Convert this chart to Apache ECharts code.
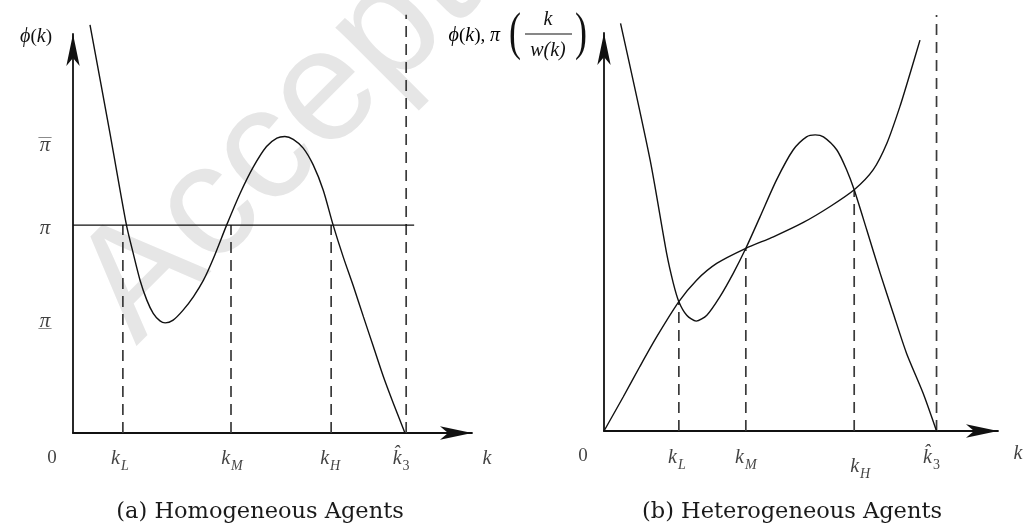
<!DOCTYPE html>
<html><head><meta charset="utf-8">
<script src="https://cdn.jsdelivr.net/npm/echarts@6/dist/echarts.min.js"></script>
<style>html,body{margin:0;padding:0;background:#fff}#c{width:1026px;height:526px}</style>
</head><body><div id="c"></div>
<script>
// ---------- Panel (a): Homogeneous Agents ----------
const phiA = [[4.26,102.3],[9.27,75.1],[13.4,52.1],[15.1,45.0],[16.8,38.3],[18.5,33.3],[20.1,30.0],[21.8,28.1],[23.1,27.6],[25.1,28.3],[27.6,30.8],[30.2,34.2],[32.7,38.3],[35.2,43.8],[38.5,52.1],[41.9,60.1],[45.2,66.7],[48.5,71.8],[51.1,73.9],[53.1,74.3],[55.2,73.6],[57.7,71.4],[60.2,67.2],[62.7,60.9],[65.2,52.1],[67.7,44.2],[70.3,36.7],[72.8,29.1],[75.3,21.6],[77.8,14.1],[80.3,7.4],[83.2,0]];
const piLevelA = 52.1;
const piLineEndA = 85.5;
const dashXA = [12.5, 39.6, 64.7];
const k3XA = 83.5, k3TopA = 104.8;
const xTickValsA = [0, 12.5, 39.6, 64.7, 83.5];
const xTickLabelsA = ['0', 'k_L', 'k_M', 'k_H', 'k\u0302_3'];
const yTickValsA = [72.2, 52.1, 28.3];
const yTickLabelsA = ['over', 'plain', 'under'];   // overlined pi, pi, underlined pi
const xTitleA = 'k';

// ---------- Panel (b): Heterogeneous Agents ----------
const phiB = [[4.2,102.4],[11.7,68.1],[15.9,44.6],[17.6,37.1],[19.0,32.5],[21.0,29.1],[23.4,27.6],[26.1,29.1],[29.4,33.7],[32.8,39.6],[36.0,45.9],[39.6,53.8],[43.8,63.1],[48.0,70.6],[51.4,73.9],[53.6,74.4],[55.7,73.9],[59.1,70.6],[61.6,65.6],[63.5,60.6],[66.7,50.5],[70.1,39.6],[73.4,29.6],[76.8,19.5],[81.0,9.5],[84.4,0]];
const piB = [[0,0],[4.9,8.6],[9.1,16.2],[13.4,23.7],[19.0,32.5],[23.5,37.9],[28.6,42.1],[36.0,45.9],[43.0,48.8],[50.6,52.4],[57.4,56.4],[63.5,60.6],[68.3,65.6],[71.8,72.3],[75.1,81.5],[77.7,89.9],[80.2,98.2]];
const dashXB = [19.0, 36.0, 63.5];
const dashTopB = [32.5, 45.9, 60.6];
const k3XB = 84.4, k3TopB = 104.5;
const xTickValsB = [0, 19.0, 36.0, 63.5, 84.4];
const xTickLabelsB = ['0', 'k_L', 'k_M', 'k_H', 'k\u0302_3'];
const xTitleB = 'k';

// ---------- styling ----------
const MATH = "'Liberation Serif','DejaVu Serif',serif";
const ROMAN = "'DejaVu Serif','Liberation Serif',serif";
const INK = '#111';
const DASH = {color:'#3a3a3a', width:1.7, type:[11,7]};
const labelOffsetsA = [[-21,27],[-3,27],[1,27],[-1,27],[-5,27]];
const labelOffsetsB = [[-21,27],[-2,28],[0,28],[6,37],[-5,28]];

const rich = {
  k: {fontFamily:MATH, fontStyle:'italic', fontSize:20, lineHeight:22, verticalAlign:'top', color:INK},
  s: {fontFamily:MATH, fontStyle:'italic', fontSize:14, lineHeight:14, padding:[10,0,0,1], verticalAlign:'top', color:INK},
  n: {fontFamily:MATH, fontSize:14, lineHeight:14, padding:[10,0,0,1], verticalAlign:'top', color:INK},
  z: {fontFamily:MATH, fontSize:19, lineHeight:22, verticalAlign:'top', color:INK},
  p: {fontFamily:MATH, fontStyle:'italic', fontSize:21, lineHeight:10, color:INK},
  p0: {fontFamily:MATH, fontStyle:'italic', fontSize:21, lineHeight:20, color:INK},
  bar: {fontFamily:MATH, fontSize:13, lineHeight:7, color:INK},
  ubar: {fontFamily:MATH, fontSize:13, lineHeight:1, color:INK},
  i: {fontFamily:MATH, fontStyle:'italic', fontSize:20, color:INK},
  r: {fontFamily:MATH, fontSize:19, color:INK}
};
function toRich(t){
  if (t.indexOf('_') >= 0) {
    const [b, s] = t.split('_');
    return '{k|' + b + '}{' + (/\d/.test(s) ? 'n' : 's') + '|' + s + '}';
  }
  if (/^\d+$/.test(t)) return '{z|' + t + '}';
  return '{k|' + t + '}';
}
function piRich(kind){
  if (kind === 'over') return '{bar|\u2014}\n{p|\u03c0}';
  if (kind === 'under') return '{p|\u03c0}\n{ubar|\u2014}';
  return '{p0|\u03c0}';
}
const piOffsets = {over:[-28,-3], plain:[-28,3], under:[-28,2]};

function axisX(g){
  return {gridIndex:g, type:'value', min:0, max:100,
    axisLine:{show:true, onZero:false, symbol:['none','arrow'], symbolSize:[10,32], lineStyle:{color:INK, width:1.8}},
    axisTick:{show:false}, axisLabel:{show:false}, splitLine:{show:false}};
}
function axisY(g, name){
  return {gridIndex:g, type:'value', min:0, max:100,
    axisLine:{show:true, onZero:false, symbol:['none','arrow'], symbolSize:[10,32], lineStyle:{color:INK, width:1.8}},
    axisTick:{show:false}, axisLabel:{show:false}, splitLine:{show:false},
    name:name, nameLocation:'end', nameGap:-3,
    nameTextStyle:{align:'right', verticalAlign:'middle', padding:[0,21,0,0], rich:rich}};
}
function curve(g, data){
  return {type:'line', xAxisIndex:g, yAxisIndex:g, data:data, smooth:0.25, showSymbol:false, clip:false, silent:true,
    lineStyle:{color:INK, width:1.4}, z:3};
}
function dashed(g, x, top){
  return {type:'line', xAxisIndex:g, yAxisIndex:g, data:[[x,0],[x,top]], showSymbol:false, clip:false, silent:true,
    lineStyle:DASH, z:2};
}
function xLabels(g, vals, labels, offs){
  return {type:'scatter', xAxisIndex:g, yAxisIndex:g, symbolSize:0, clip:false, silent:true,
    data: vals.map((v,i)=>({value:[v,0], label:{offset:offs[i]}})),
    label:{show:true, position:'inside', formatter:p=>toRich(labels[p.dataIndex]), rich:rich}};
}
function xTitle(g, text, off){
  return {type:'scatter', xAxisIndex:g, yAxisIndex:g, symbolSize:0, clip:false, silent:true,
    data:[{value:[100,0], label:{offset:off}}],
    label:{show:true, position:'inside', formatter:()=>'{k|'+text+'}', rich:rich}};
}
function yLabels(g, vals, labels){
  return {type:'scatter', xAxisIndex:g, yAxisIndex:g, symbolSize:0, clip:false, silent:true,
    data: vals.map((v,i)=>({value:[0,v], label:{offset:piOffsets[labels[i]]}})),
    label:{show:true, position:'inside', align:'center', formatter:p=>piRich(labels[p.dataIndex]), rich:rich}};
}

const series = [];
series.push(curve(0, phiA));
series.push({type:'line', xAxisIndex:0, yAxisIndex:0, data:[[0,piLevelA],[piLineEndA,piLevelA]], showSymbol:false, clip:false, silent:true, lineStyle:{color:INK, width:1.4}, z:3});
dashXA.forEach(x=>series.push(dashed(0, x, piLevelA)));
series.push(dashed(0, k3XA, k3TopA));
series.push(xLabels(0, xTickValsA, xTickLabelsA, labelOffsetsA));
series.push(xTitle(0, xTitleA, [15,27]));
series.push(yLabels(0, yTickValsA, yTickLabelsA));

series.push(curve(1, phiB));
series.push(curve(1, piB));
dashXB.forEach((x,i)=>series.push(dashed(1, x, dashTopB[i])));
series.push(dashed(1, k3XB, k3TopB));
series.push(xLabels(1, xTickValsB, xTickLabelsB, labelOffsetsB));
series.push(xTitle(1, xTitleB, [20,24]));

const chart = echarts.init(document.getElementById('c'));
chart.setOption({
  animation:false,
  backgroundColor:'#fff',
  grid:[{left:73, top:34, width:399, height:399}, {left:604, top:33, width:394, height:398}],
  xAxis:[axisX(0), axisX(1)],
  yAxis:[axisY(0, '{i|\u03d5}{r|(}{i|k}{r|)}'), axisY(1, '')],
  series:series,
  graphic:[
    {type:'text', x:105, y:315, rotation:Math.PI/4, z:-10, silent:true,
      style:{text:'Accepted', fontFamily:"'Liberation Sans',Arial,sans-serif", fontSize:160, fill:'#e6e6e6', verticalAlign:'middle', align:'left'}},
    {type:'text', x:260, y:512, silent:true, style:{text:'(a) Homogeneous Agents', fontFamily:ROMAN, fontSize:22.5, fill:'#1a1a1a', align:'center', verticalAlign:'middle'}},
    {type:'text', x:792, y:512, silent:true, style:{text:'(b) Heterogeneous Agents', fontFamily:ROMAN, fontSize:22.5, fill:'#1a1a1a', align:'center', verticalAlign:'middle'}},
    {type:'text', x:500, y:36, silent:true, style:{text:'{i|\u03d5}{r|(}{i|k}{r|), }{i|\u03c0}', rich:rich, align:'right', verticalAlign:'middle'}},
    {type:'text', x:515, y:35, scaleY:1.45, silent:true, style:{text:'(', fontFamily:MATH, fontSize:36, fill:INK, align:'center', verticalAlign:'middle'}},
    {type:'text', x:581, y:35, scaleY:1.45, silent:true, style:{text:')', fontFamily:MATH, fontSize:36, fill:INK, align:'center', verticalAlign:'middle'}},
    {type:'text', x:548, y:20, silent:true, style:{text:'k', fontFamily:MATH, fontStyle:'italic', fontSize:20, fill:INK, align:'center', verticalAlign:'middle'}},
    {type:'line', silent:true, shape:{x1:525, y1:34, x2:572, y2:34}, style:{stroke:INK, lineWidth:1.2}},
    {type:'text', x:548, y:51, silent:true, style:{text:'w(k)', fontFamily:MATH, fontStyle:'italic', fontSize:20, fill:INK, align:'center', verticalAlign:'middle'}}
  ]
});
</script></body></html>
